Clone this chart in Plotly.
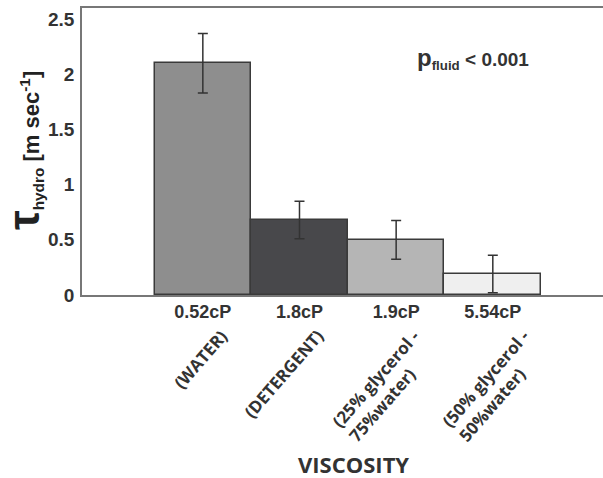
import plotly.graph_objects as go

categories = ["0.52cP", "1.8cP", "1.9cP", "5.54cP"]
descriptions = ["(WATER)", "(DETERGENT)", "(25% glycerol -<br>75%water)", "(50% glycerol -<br>50%water)"]
tau_values = [2.10, 0.68, 0.50, 0.19]
tau_errors = [0.27, 0.17, 0.175, 0.17]
bar_colors = ["#8e8e8e", "#48484b", "#b5b5b5", "#efefef"]
y_ticks = [0, 0.5, 1, 1.5, 2, 2.5]
y_ticktext = ["0", "0.5", "1", "1.5", "2", "2.5"]

# layout-only offsets (px) for rotated description labels
label_xshift = [32, 32, 48, 61]

W, H = 603, 478
ml, mr, mt, mb = 82, 0, 8, 183

fig = go.Figure()
fig.add_trace(go.Bar(
    x=categories, y=tau_values,
    marker=dict(color=bar_colors, line=dict(color="#3a3a3a", width=1.5)),
    error_y=dict(type="data", array=tau_errors, visible=True,
                 color="#333333", thickness=1.5, width=5),
    width=1.0, hoverinfo="skip",
))

fig.update_layout(
    width=W, height=H,
    margin=dict(l=ml, r=mr, t=mt, b=mb),
    plot_bgcolor="white", paper_bgcolor="white",
    showlegend=False, bargap=0,
    font=dict(family="Liberation Sans, Arial", color="#333333"),
)
fig.update_xaxes(
    range=[-1.25, 4.14], showline=True, linecolor="#777777", linewidth=1.5,
    mirror=True, ticks="", showgrid=False, zeroline=False,
    tickfont=dict(size=18, family="Liberation Sans, Arial", color="#333333", weight="bold"),
)
fig.update_yaxes(
    range=[0, 2.6], showline=True, linecolor="#777777", linewidth=1.5,
    ticks="", showgrid=False, zeroline=False,
    tickvals=y_ticks, ticktext=y_ticktext, ticklabelstandoff=2,
    tickfont=dict(size=19, family="Liberation Sans, Arial", color="#333333", weight="bold"),
)

pw = W - ml - mr
ph = H - mt - mb

for cat, desc, xs in zip(categories, descriptions, label_xshift):
    fig.add_annotation(
        x=cat, y=(H - mb - 322) / ph, xref="x", yref="paper",
        text=f"<b>{desc}</b>", showarrow=False, textangle=-49,
        xanchor="right", yanchor="top", align="left", xshift=xs,
        font=dict(size=17, family="Open Sans", color="#333333"),
    )

fig.add_annotation(
    x=(353 - ml) / pw, y=(H - mb - 464) / ph, xref="paper", yref="paper",
    text="<b>VISCOSITY</b>", showarrow=False, xanchor="center", yanchor="middle",
    font=dict(size=22, family="Open Sans", color="#333333"),
)

fig.add_annotation(
    x=(23 - ml) / pw, y=(H - mb - 151) / ph, xref="paper", yref="paper",
    text="<b><span style='font-size:44px'>τ</span><sub>hydro</sub> [m sec<sup>-1</sup>]</b>",
    showarrow=False, textangle=-90, xanchor="center", yanchor="middle",
    font=dict(size=22, family="Liberation Sans, Arial", color="#222222"),
)

fig.add_annotation(
    x=(473 - ml) / pw, y=(H - mb - 58) / ph, xref="paper", yref="paper",
    text="<b><span style='font-size:24px'>p</span><sub>fluid</sub> &lt; 0.001</b>",
    showarrow=False, xanchor="center", yanchor="middle",
    font=dict(size=19, family="Liberation Sans, Arial", color="#333333"),
)

fig.write_html("out.html", config={"displayModeBar": False},
               post_script="document.body.style.margin='0';document.body.style.overflow='hidden';")
